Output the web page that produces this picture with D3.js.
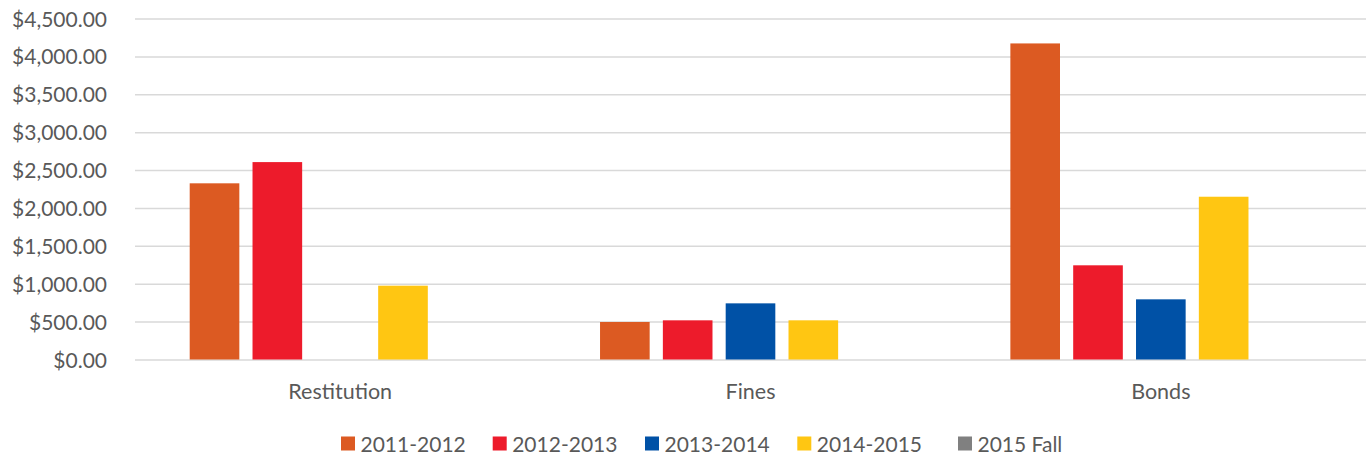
<!DOCTYPE html>
<html><head><meta charset="utf-8">
<script src="https://cdn.jsdelivr.net/npm/d3@7"></script>
<style>body{margin:0;background:#fff;} text{font-family:Lato,"Open Sans",sans-serif;fill:#595959;}</style>
</head><body><svg id="c" width="1366" height="459"></svg>
<script>
const categories = ["Restitution","Fines","Bonds"];
const seriesNames = ["2011-2012","2012-2013","2013-2014","2014-2015","2015 Fall"];
const s2011 = [2325, 495, 4171];
const s2012 = [2605, 517, 1243];
const s2013 = [0, 741, 794];
const s2014 = [974, 517, 2148];
const sFall = [0, 0, 0];
const colors = ["#DC5A22","#ED1B2B","#0051A6","#FFC612","#808080"];
const tickValues = [0,500,1000,1500,2000,2500,3000,3500,4000,4500];

(function(){
const series = [s2011,s2012,s2013,s2014,sFall];
const svg = d3.select("#c");
const mLeft = 135, mRight = 1366, mTop = 18.5, mBottom = 359.5;
const y = d3.scaleLinear().domain([0,4500]).range([mBottom, mTop]);
const x0 = d3.scaleBand().domain(categories).range([mLeft,mRight]).paddingInner(0).paddingOuter(0);
const bw = x0.bandwidth();
const x1 = d3.scaleBand().domain(seriesNames).range([54.7, bw-54.7]).paddingInner(0.21).paddingOuter(0);
const fmt = d3.format("$,.2f");

const yAxis = d3.axisLeft(y).tickValues(tickValues).tickSize(-(mRight-mLeft)).tickFormat(fmt);
const ga = svg.append("g").attr("transform",`translate(${mLeft},0)`).call(yAxis);
ga.attr("font-family",null);
ga.select(".domain").remove();
ga.selectAll(".tick line").attr("stroke","#D9D9D9").attr("stroke-width",1.5);
ga.selectAll(".tick text").attr("x",-28).attr("dy","0.36em").attr("font-size",21).style("fill","#595959");

categories.forEach((c,ci)=>{
  const g = svg.append("g").attr("transform",`translate(${x0(c)},0)`);
  g.selectAll("rect").data(seriesNames.map((s,si)=>({s,v:series[si][ci],col:colors[si]}))).join("rect")
    .attr("x",d=>x1(d.s)).attr("width",x1.bandwidth())
    .attr("y",d=>y(d.v)).attr("height",d=>mBottom-y(d.v)).attr("fill",d=>d.col);
});

const gx = svg.append("g").attr("transform",`translate(0,${mBottom})`).call(d3.axisBottom(x0).tickSize(0).tickPadding(0));
gx.attr("font-family",null);
gx.select(".domain").remove();
gx.selectAll(".tick text").attr("y",39.5).attr("dy",null).attr("font-size",21.5).style("fill","#595959");

const legendX = [341, 492.7, 645, 797.3, 958];
const lg = svg.append("g");
seriesNames.forEach((s,i)=>{
  lg.append("rect").attr("x",legendX[i]).attr("y",436.5).attr("width",14).attr("height",14).attr("fill",colors[i]);
  lg.append("text").attr("x",legendX[i]+19.5).attr("y",451.5).attr("font-size",21).text(s);
});
})();
</script></body></html>
